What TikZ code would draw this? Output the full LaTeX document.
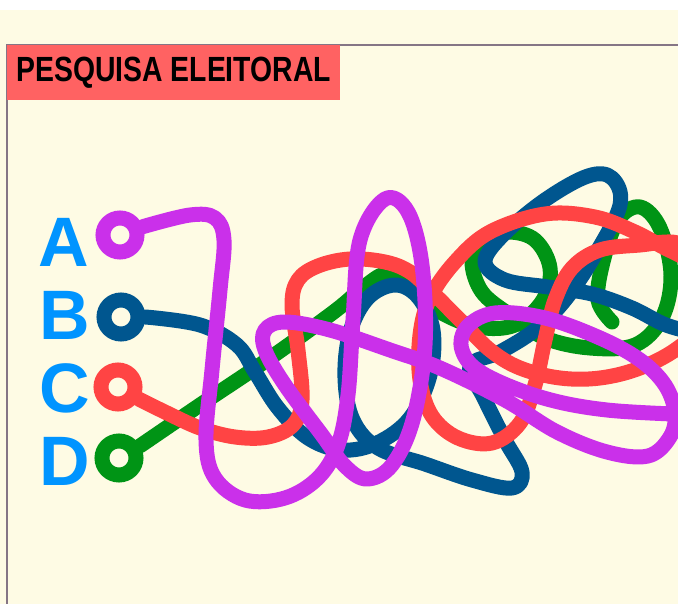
\documentclass[tikz,border=0pt]{standalone}
\usepackage{fontspec}
\setmainfont{Liberation Sans}
\usepackage{graphicx}
\usetikzlibrary{positioning}

\definecolor{paper}{HTML}{FEFBE4}
\definecolor{frameline}{HTML}{857585}
\definecolor{titlered}{HTML}{FF6262}
\definecolor{letterblue}{HTML}{0094FF}
\definecolor{candA}{HTML}{CA30EA}
\definecolor{candB}{HTML}{00568F}
\definecolor{candC}{HTML}{FF4444}
\definecolor{candD}{HTML}{009415}

\begin{document}
\begin{tikzpicture}[x=1pt, y=-1pt,
    strand/.style={line width=15pt, line cap=round, line join=round},
    ring/.style={circle, draw, line width=15pt, minimum size=34pt, inner sep=0pt, fill=paper},
    letter/.style={text=letterblue, font=\fontsize{70}{70}\selectfont\bfseries, anchor=base, inner sep=0pt}]

    % Page and frame
    \useasboundingbox (0,0) rectangle (678,604);
    \fill[white] (0,0) rectangle (678,604);
    \fill[paper] (0,10) rectangle (678,604);
    \draw[frameline, line width=2.5pt] (7,604) -- (7,45) -- (678,45);
    \node[fill=titlered, anchor=north west, minimum width=333pt, minimum height=55pt,
          inner sep=0pt, font=\fontsize{35}{35}\selectfont\bfseries] (title) at (7,45)
          {\scalebox{0.81}[1]{PESQUISA ELEITORAL}};

    % Letters and start rings
    \node[letter] (labA) at (64,267) {A};
    \node[letter] (labB) at (65,340) {B};
    \node[letter] (labC) at (65,412) {C};
    \node[letter] (labD) at (65,485) {D};
    \node[ring, draw=candA] (dotA) at (120,235) {};
    \node[ring, draw=candB] (dotB) at (121,317) {};
    \node[ring, draw=candC] (dotC) at (118,387) {};
    \node[ring, draw=candD] (dotD) at (119,458) {};

    % Loose ends off the right side
    \coordinate (endA) at (700,415);
    \coordinate (endB) at (700,334);
    \coordinate (endC) at (700,265);
    \coordinate (endD) at (612,322);

    \begin{scope}
    \clip (0,10) rectangle (678,604);
    % D
    \draw[strand, candD] plot[smooth, tension=0.6] coordinates {(dotD.30) (200,405) (270,358)
        (335,311) (365,286) (388,274) (412,290) (440,312) (478,327) (515,325) (543,300)
        (550,268) (535,240) (508,232) (482,240) (472,262) (482,292) (510,315) (545,338)
        (590,348) (635,345) (662,318) (671,275) (660,228) (640,207) (618,220) (603,262)
        (598,300) (endD)};
    % B
    \draw[strand, candB] plot[smooth, tension=0.6] coordinates {(dotB.east) (200,325) (237,345)
        (255,372) (278,408) (308,438) (342,450) (377,443) (410,418) (430,375) (433,330)
        (418,297) (395,285) (368,298) (350,332) (345,378) (353,420) (378,448) (425,464)
        (472,480) (512,488) (522,472) (505,440) (484,398) (470,366) (500,352) (535,330)
        (565,300) (595,255) (620,205) (612,178) (588,176) (545,200) (503,235) (485,262)
        (505,280) (548,287) (592,294) (632,308) (666,325) (endB)};
    % C
    \draw[strand, candC] plot[smooth, tension=0.6] coordinates {(dotC.-30) (167,413) (200,428)
        (235,437) (268,437) (293,425) (302,400) (298,350) (292,305) (298,280) (318,266)
        (350,259) (385,262) (410,272) (432,292) (462,322) (490,350) (520,368) (560,378)
        (600,378) (640,368) (678,348) (712,315) (712,262) (678,243) (640,245) (600,250)
        (572,268) (555,300) (545,340) (535,385) (520,423) (492,443) (458,438) (432,416)
        (420,380) (420,335) (430,298) (455,262) (490,232) (545,214) (595,217) (635,232)
        (665,248) (endC)};
    % A
    \draw[strand, candA] plot[smooth, tension=0.6] coordinates {(dotA.20) (190,215) (215,218)
        (224,240) (220,290) (212,370) (206,440) (215,478) (245,500) (285,498) (318,478)
        (338,445) (348,395) (353,320) (360,240) (385,199) (408,212) (422,265) (425,345)
        (413,420) (392,465) (367,479) (345,466) (322,435) (285,385) (265,350) (265,330)
        (285,322) (330,330) (390,350) (440,368) (505,400) (557,432) (607,452) (648,456)
        (670,437) (675,413) (665,385) (640,360) (600,338) (545,318) (495,313) (467,327)
        (462,350) (482,373) (540,397) (607,410) (endA)};
    \end{scope}

\end{tikzpicture}
\end{document}
